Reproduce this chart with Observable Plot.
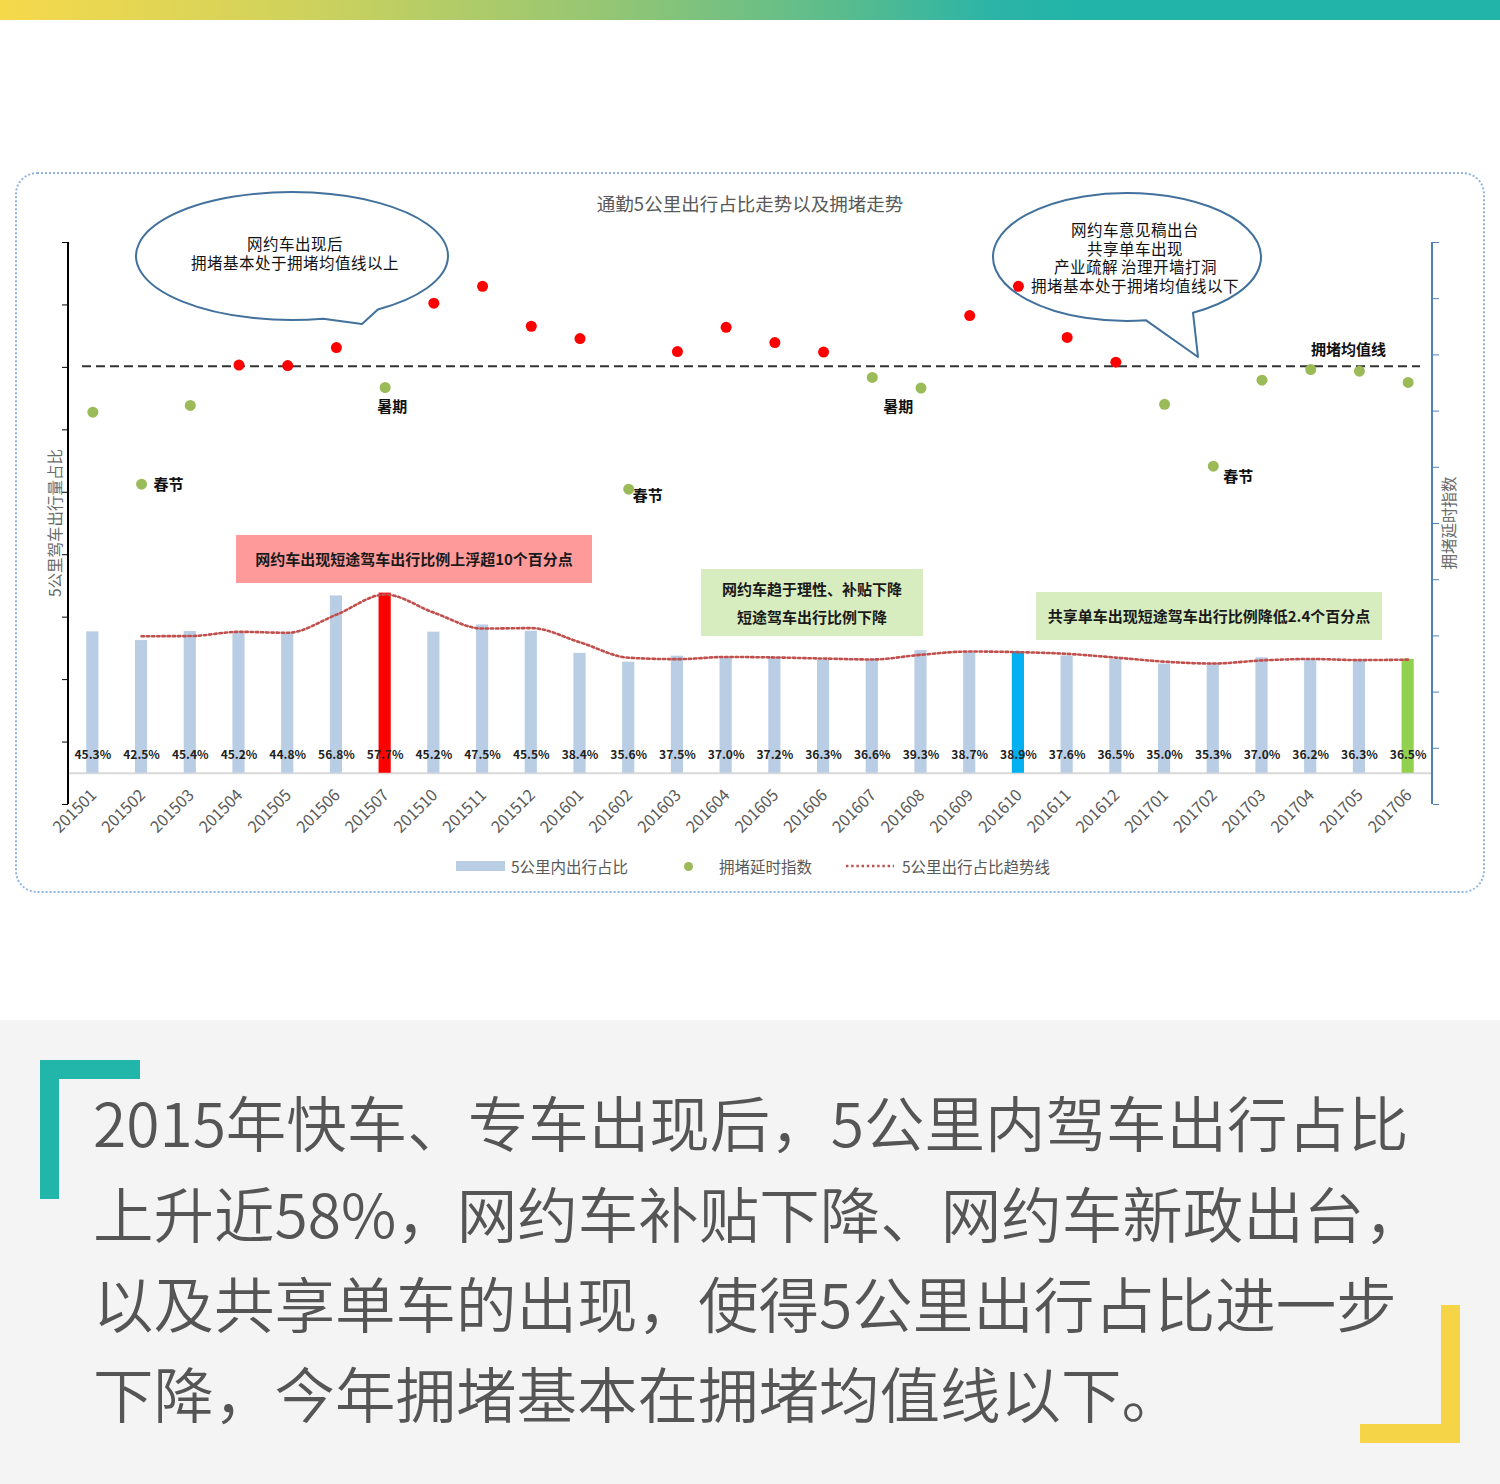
<!DOCTYPE html>
<html lang="zh-CN">
<head>
<meta charset="utf-8">
<script src="https://cdn.jsdelivr.net/npm/d3@7"></script>
<script src="https://cdn.jsdelivr.net/npm/@observablehq/plot@0.6"></script>
<style>
@font-face{font-family:"TightCJK";src:local("Noto Sans CJK SC"),local("Noto Sans CJK SC Regular"),local("NotoSansCJKsc-Regular"),local("NotoSansCJKSC-Regular");ascent-override:88%;descent-override:12%;line-gap-override:0%;}
html,body{margin:0;padding:0;background:#fff;}
body{position:relative;width:1500px;height:1484px;overflow:hidden;font-family:"Noto Sans CJK SC","Noto Sans",sans-serif;}
.abs{position:absolute;}
#topbar{left:0;top:0;width:1500px;height:20px;background:linear-gradient(to right,#f6d94b 0%,#cfd25c 20%,#96c673 40%,#5abc8d 56%,#2cb4a6 66%,#22b4a9 72%,#22b4a9 100%);}
#frame{left:15px;top:172px;width:1466px;height:717px;border:2px dotted #8fb4e3;border-radius:22px;box-sizing:content-box;}
#title{left:0;top:189px;width:1500px;text-align:center;font-size:18.5px;line-height:28px;color:#595959;}
#chart{left:0;top:172px;width:1500px;height:722px;}
#chart svg{position:absolute;left:0;top:0;}
.box{display:flex;flex-direction:column;align-items:center;justify-content:center;font-weight:bold;font-size:15px;color:#1a1a1a;line-height:28px;}
.btext{font-family:"TightCJK","Noto Sans CJK SC",sans-serif;font-size:15.5px;line-height:18.6px;color:#111;text-align:center;white-space:nowrap;transform:translateX(-50%);}
.ytitle{font-size:15.5px;color:#6a6a6a;white-space:nowrap;transform:translate(-50%,-50%) rotate(-90deg);}
.leg{font-size:15.5px;color:#595959;line-height:20px;white-space:nowrap;}
#panel{left:0;top:1020px;width:1500px;height:464px;background:#f4f4f4;}
.para{left:93px;font-size:60.5px;line-height:90px;color:#555;white-space:nowrap;font-weight:350;}
</style>
</head>
<body>
<div id="topbar" class="abs"></div>
<div id="frame" class="abs"></div>

<svg id="bubbles" class="abs" style="left:0;top:0" width="1500" height="900"></svg>
<div class="abs btext" style="left:295px;top:235px;">网约车出现后<br>拥堵基本处于拥堵均值线以上</div>
<div class="abs btext" style="left:1135px;top:221px;">网约车意见稿出台<br>共享单车出现<br>产业疏解 治理开墙打洞<br>拥堵基本处于拥堵均值线以下</div>

<div id="title" class="abs">通勤5公里出行占比走势以及拥堵走势</div>

<div class="abs box" style="left:236px;top:535px;width:356px;height:48px;background:#ff9a9a;">网约车出现短途驾车出行比例上浮超10个百分点</div>
<div class="abs box" style="left:701px;top:569px;width:222px;height:67px;background:#d7edbf;"><div>网约车趋于理性、补贴下降</div><div>短途驾车出行比例下降</div></div>
<div class="abs box" style="left:1036px;top:592px;width:346px;height:48px;background:#d7edbf;">共享单车出现短途驾车出行比例降低2.4个百分点</div>

<div class="abs ytitle" style="left:54px;top:523px;">5公里驾车出行量占比</div>
<div class="abs ytitle" style="left:1448px;top:523px;">拥堵延时指数</div>

<div id="chart" class="abs"></div>

<div class="abs" style="left:456px;top:861px;width:49px;height:10px;background:#b9cde5;"></div>
<div class="abs leg" style="left:511px;top:856px;">5公里内出行占比</div>
<div class="abs" style="left:684px;top:862px;width:9px;height:9px;border-radius:50%;background:#9bbb59;"></div>
<div class="abs leg" style="left:719px;top:856px;">拥堵延时指数</div>
<svg class="abs" style="left:844px;top:860px" width="52" height="12"><line x1="2" x2="50" y1="6" y2="6" stroke="#c0504d" stroke-width="2.6" stroke-dasharray="2.4 2.8"/></svg>
<div class="abs leg" style="left:902px;top:856px;">5公里出行占比趋势线</div>

<div id="panel" class="abs"></div>
<div class="abs" style="left:40px;top:1060px;width:100px;height:19px;background:#22b5aa;"></div>
<div class="abs" style="left:40px;top:1060px;width:19px;height:139px;background:#22b5aa;"></div>
<div class="abs" style="left:1441px;top:1305px;width:19px;height:138px;background:#f5d547;"></div>
<div class="abs" style="left:1360px;top:1424px;width:100px;height:19px;background:#f5d547;"></div>
<div class="abs para" style="top:1076px;">2015年快车、专车出现后，5公里内驾车出行占比</div>
<div class="abs para" style="top:1167px;">上升近58%，网约车补贴下降、网约车新政出台，</div>
<div class="abs para" style="top:1257px;">以及共享单车的出现，使得5公里出行占比进一步</div>
<div class="abs para" style="top:1347px;">下降，今年拥堵基本在拥堵均值线以下。</div>

<script>
// ---------- data ----------
const months = ["201501","201502","201503","201504","201505","201506","201507","201510","201511","201512",
  "201601","201602","201603","201604","201605","201606","201607","201608","201609","201610","201611","201612",
  "201701","201702","201703","201704","201705","201706"];
const shortTripShare = [45.3,42.5,45.4,45.2,44.8,56.8,57.7,45.2,47.5,45.5,
  38.4,35.6,37.5,37.0,37.2,36.3,36.6,39.3,38.7,38.9,37.6,36.5,
  35.0,35.3,37.0,36.2,36.3,36.5];
const congestionIndex = [1.698,1.570,1.710,1.782,1.781,1.813,1.742,1.892,1.922,1.851,
  1.829,1.561,1.806,1.849,1.822,1.805,1.760,1.741,1.870,1.922,1.831,1.787,
  1.712,1.602,1.755,1.774,1.771,1.751];
const congestionMean = 1.78;
const shareTicks = [-10,10,30,50,70,90,110,130,150,170];
const indexTicks = [1.0,1.1,1.2,1.3,1.4,1.5,1.6,1.7,1.8,1.9,2.0];
const festivalMonths = ["201502","201602","201702"];
const summerMonths = ["201507","201607"];

// ---------- styles ----------
const highlightFill = {"201507":"#ff0000","201610":"#00b0f0","201706":"#92d050"};
const noteOffset = {"201502":[12,1,"start"],"201602":[4,7,"start"],"201702":[10,11,"start"],
                    "201507":[7,20,"middle"],"201607":[26,30,"middle"]};
const FONT = '"Noto Sans CJK SC","Noto Sans",sans-serif';

const rows = months.map((m,i)=>({month:m, share:shortTripShare[i], idx:congestionIndex[i]}));
const byMonth = new Map(rows.map(d=>[d.month,d]));

const common = {
  width:1500, height:722, marginTop:70, marginBottom:90, marginLeft:68, marginRight:68,
  x:{type:"band", domain:months, paddingInner:0.75, paddingOuter:0.375, round:false, label:null},
  style:{background:"transparent", overflow:"visible", fontFamily:FONT}
};

const barPlot = Plot.plot({
  ...common,
  y:{domain:[-10,170], label:null},
  marks:[
    Plot.ruleY([0],{stroke:"#d9d9d9", strokeWidth:2}),
    Plot.barY(rows,{x:"month", y:"share", fill:d=>highlightFill[d.month] ?? "#b9cde5"}),
    Plot.lineY(rows, Plot.windowY({k:2, anchor:"end", strict:true},
      {x:"month", y:"share", stroke:"#c0504d", strokeWidth:2.6, strokeDasharray:"2.4 2.8", curve:"monotone-x"})),
    Plot.text(rows,{x:"month", y:0, text:d=>d.share.toFixed(1)+"%", dy:-18, fontSize:12, fontWeight:"bold", fill:"#222"}),
    Plot.axisY({ticks:shareTicks, tickSize:6, tickFormat:()=>"", color:"#000", label:null}),
    Plot.axisX({tickRotate:-45, tickSize:0, tickPadding:0, dy:-12, dx:1, fontSize:16, color:"#595959", label:null})
  ]
});

const notes = [
  ...festivalMonths.map(m=>({month:m, label:"春节"})),
  ...summerMonths.map(m=>({month:m, label:"暑期"}))
];

const idxPlot = Plot.plot({
  ...common,
  x:{...common.x, axis:null},
  y:{domain:[1.0,2.0], label:null},
  marks:[
    Plot.ruleY([congestionMean],{stroke:"#333", strokeWidth:2, strokeDasharray:"9 5", insetLeft:14, insetRight:12}),
    Plot.dot(rows,{x:"month", y:"idx", r:5.5, fill:d=>d.idx>=congestionMean ? "#ff0000" : "#9bbb59"}),
    ...notes.map(n=>{
      const [dx,dy,anchor] = noteOffset[n.month];
      return Plot.text([n],{x:"month", y:d=>byMonth.get(d.month).idx, text:"label",
        dx, dy, textAnchor:anchor, fontSize:15, fontWeight:"bold", fill:"#111"});
    }),
    Plot.text([{month:"201705", v:congestionMean, label:"拥堵均值线"}],
      {x:"month", y:"v", text:"label", dx:-11, dy:-16, fontSize:15, fontWeight:"bold", fill:"#111"}),
    Plot.axisY({anchor:"right", ticks:indexTicks, tickSize:6, tickFormat:()=>"", color:"#4f81bd", label:null})
  ]
});

function axisLine(plot, side, color){
  const xs = plot.scale("x"), ys = plot.scale("y");
  const xp = side === "left" ? xs.range[0] : xs.range[1];
  d3.select(plot).append("line")
    .attr("x1",xp).attr("x2",xp).attr("y1",ys.range[0]).attr("y2",ys.range[1])
    .attr("stroke",color).attr("stroke-width",2);
}
axisLine(barPlot,"left","#000");
axisLine(idxPlot,"right","#4f81bd");

document.getElementById("chart").append(barPlot, idxPlot);

// ---------- speech bubbles (decoration) ----------
function bubblePath(cx,cy,rx,ry,a1,a2,tip){
  const p = a => [cx+rx*Math.cos(a*Math.PI/180), cy+ry*Math.sin(a*Math.PI/180)];
  const s = p(a1), e = p(a2);
  return `M${s[0]},${s[1]} A${rx},${ry} 0 1 0 ${e[0]},${e[1]} L${tip[0]},${tip[1]} Z`;
}
const bsvg = d3.select("#bubbles");
const bubbles = [
  {cx:292, cy:256, rx:156, ry:64, a1:56.6, a2:78.5, tip:[362,324]},
  {cx:1127, cy:257, rx:134, ry:64, a1:60.5, a2:81.8, tip:[1198,357]}
];
for (const b of bubbles){
  bsvg.append("path").attr("d",bubblePath(b.cx,b.cy,b.rx,b.ry,b.a1,b.a2,b.tip))
    .attr("fill","#fff").attr("stroke","#41719c").attr("stroke-width",2).attr("stroke-linejoin","round");
}
</script>
</body>
</html>
